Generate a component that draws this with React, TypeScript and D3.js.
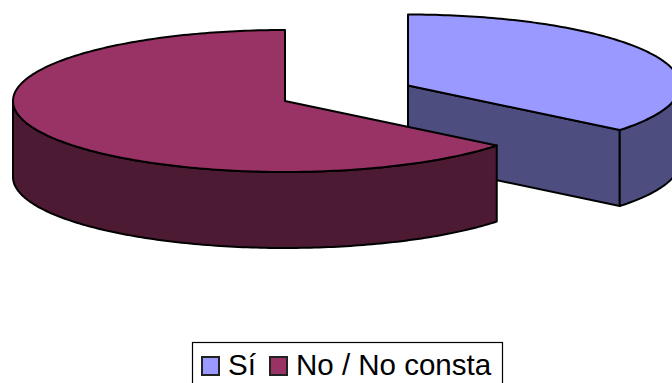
import React from "react";
import * as d3 from "d3";

const categories = ["Sí", "No / No consta"];
const shares = [35.8, 64.2];
const topColors = ["#9999ff", "#993366"];
const sideColors = ["#4d4d80", "#4d1a33"];

const WIDTH = 672;
const HEIGHT = 383;
const RX = 272;
const RY = 71;
const DEPTH = 76;
// Centre of each slice's top face; the first slice is pulled out of the pie.
const centres: [number, number][] = [
  [408, 85.5],
  [285, 101],
];

const slices = d3.pie<number>().sort(null)(shares);

const project = (c: [number, number], angle: number, drop = 0): [number, number] => [
  c[0] + RX * Math.sin(angle),
  c[1] - RY * Math.cos(angle) + drop,
];

const line = d3.line();

const arcPoints = (c: [number, number], a0: number, a1: number, drop = 0) => {
  const n = Math.max(2, Math.ceil(Math.abs(a1 - a0) * 60));
  return d3.range(n + 1).map((i) => project(c, a0 + ((a1 - a0) * i) / n, drop));
};

// Rim visible from the front: the part of the slice in the lower half of the ellipse.
const rimPath = (c: [number, number], a0: number, a1: number) => {
  const from = Math.max(a0, Math.PI / 2);
  const to = Math.min(a1, (3 * Math.PI) / 2);
  if (to <= from) return null;
  return line([...arcPoints(c, from, to), ...arcPoints(c, to, from, DEPTH)]) + "Z";
};

const legendSwatches = [
  { x: 202, textX: 228 },
  { x: 270, textX: 296 },
];

export default function App() {
  return (
    <svg
      width={WIDTH}
      height={HEIGHT}
      viewBox={`0 0 ${WIDTH} ${HEIGHT}`}
      style={{ position: "fixed", left: 0, top: 0, display: "block", background: "#fff" }}
    >
      {slices.map((s, i) => {
        const c = centres[i];
        const rim = rimPath(c, s.startAngle, s.endAngle);
        const cutEnd = project(c, s.endAngle);
        const cutFace =
          s.endAngle < Math.PI
            ? line([c, cutEnd, [cutEnd[0], cutEnd[1] + DEPTH], [c[0], c[1] + DEPTH]]) + "Z"
            : null;
        const top = line([c, ...arcPoints(c, s.startAngle, s.endAngle)]) + "Z";
        return (
          <g key={categories[i]} stroke="#000" strokeWidth={2} strokeLinejoin="round">
            {cutFace && <path d={cutFace} fill={sideColors[i]} />}
            {rim && <path d={rim} fill={sideColors[i]} />}
            <path d={top} fill={topColors[i]} />
          </g>
        );
      })}

      <rect x={192.5} y={342.5} width={310} height={60} fill="#fff" stroke="#000" strokeWidth={1.2} />
      {categories.map((name, i) => (
        <g key={name}>
          <rect
            x={legendSwatches[i].x}
            y={357}
            width={17}
            height={18}
            fill={topColors[i]}
            stroke="#222"
            strokeWidth={2}
          />
          <text
            x={legendSwatches[i].textX}
            y={375}
            fontFamily="'Liberation Sans', Arial, sans-serif"
            fontSize={29.5}
            fill="#000"
          >
            {name}
          </text>
        </g>
      ))}
    </svg>
  );
}
